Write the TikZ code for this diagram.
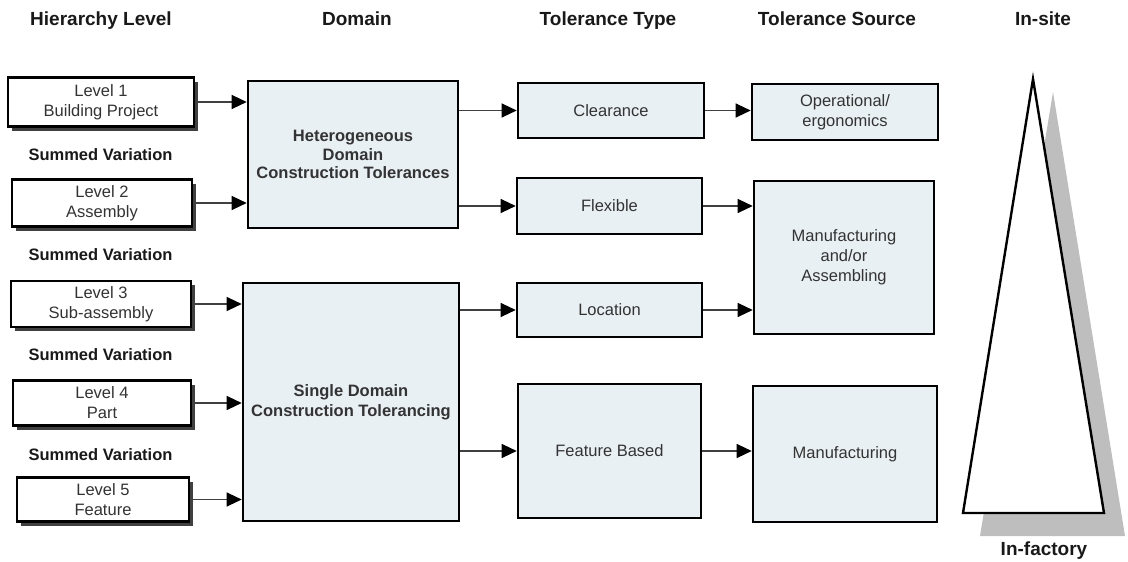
\documentclass[tikz,border=0pt]{standalone}
\usepackage{fontspec}
\setmainfont{Liberation Sans}
\usetikzlibrary{arrows.meta,shadows}
\definecolor{boxfill}{HTML}{E9F0F4}
\definecolor{shadegray}{HTML}{BEBEBE}
\definecolor{inkgray}{HTML}{333333}

\begin{document}
\begin{tikzpicture}[x=1pt,y=-1pt,
	hdr/.style={anchor=base, font=\fontsize{19}{22}\selectfont\bfseries, text=black!90},
	sumlabel/.style={anchor=base, font=\fontsize{16.5}{20}\selectfont\bfseries, text=black!90},
	lvlbox/.style={draw, line width=2.4pt, fill=white, align=center, inner sep=0pt,
		font=\fontsize{16.5}{20}\selectfont, text=inkgray,
		drop shadow={shadow xshift=4pt, shadow yshift=-4pt, fill=black!75, opacity=1}},
	tolbox/.style={draw, line width=2.6pt, fill=boxfill, align=center, inner sep=0pt,
		font=\fontsize{16.5}{20}\selectfont, text=inkgray},
	flow/.style={draw=black!75, line width=1.2pt, -{Triangle[length=15pt,width=14pt,color=black]}}]
\useasboundingbox (0,0) rectangle (1128,562);

% column headings
\node[hdr] (hhier) at (101,25) {Hierarchy Level};
\node[hdr] (hdom) at (357,25) {Domain};
\node[hdr] (htype) at (608,25) {Tolerance Type};
\node[hdr] (hsrc) at (837,25) {Tolerance Source};
\node[hdr] (hsite) at (1043,25) {In-site};
\node[hdr] (hfac) at (1044,555) {In-factory};

% hierarchy levels
\node[lvlbox, minimum width=186pt, minimum height=49pt] (lvl1) at (101,102) {Level 1\\Building Project};
\node[lvlbox, minimum width=180pt, minimum height=47pt] (lvl2) at (102,203) {Level 2\\Assembly};
\node[lvlbox, minimum width=180pt, minimum height=46pt] (lvl3) at (101,304) {Level 3\\Sub-assembly};
\node[lvlbox, minimum width=178pt, minimum height=45pt] (lvl4) at (102,403) {Level 4\\Part};
\node[lvlbox, minimum width=172pt, minimum height=44pt] (lvl5) at (103,499.5) {Level 5\\Feature};

\node[sumlabel] (sum1) at (100.5,160) {Summed Variation};
\node[sumlabel] (sum2) at (100.5,260) {Summed Variation};
\node[sumlabel] (sum3) at (100.5,360) {Summed Variation};
\node[sumlabel] (sum4) at (100.5,460) {Summed Variation};

% domains
\node[tolbox, font=\fontsize{16.5}{18.5}\selectfont\bfseries, minimum width=210pt, minimum height=147pt] (hetero) at (353,154.5)
	{Heterogeneous\\Domain\\Construction Tolerances};
\node[tolbox, font=\fontsize{16.5}{20}\selectfont\bfseries, minimum width=216pt, minimum height=238pt] (single) at (351,402)
	{Single Domain\\Construction Tolerancing};

% tolerance types
\node[tolbox, minimum width=186pt, minimum height=55pt] (clear) at (611,110.5) {Clearance};
\node[tolbox, minimum width=185pt, minimum height=56pt] (flex) at (609.5,206) {Flexible};
\node[tolbox, minimum width=185pt, minimum height=54pt] (loc) at (609.5,310) {Location};
\node[tolbox, minimum width=183pt, minimum height=134pt] (feat) at (609.5,451) {Feature Based};

% tolerance sources
\node[tolbox, minimum width=186pt, minimum height=56pt] (oper) at (845,112) {Operational/\\ergonomics};
\node[tolbox, minimum width=180pt, minimum height=153pt] (manasm) at (844,257.5) {Manufacturing\\and/or\\Assembling};
\node[tolbox, minimum width=184pt, minimum height=136pt] (manuf) at (845,454) {Manufacturing};

% connectors
\draw[flow] (lvl1.east) -- (lvl1.east -| hetero.west);
\draw[flow] (lvl2.east) -- (lvl2.east -| hetero.west);
\draw[flow] (lvl3.east) -- (lvl3.east -| single.west);
\draw[flow] (lvl4.east) -- (lvl4.east -| single.west);
\draw[flow] (lvl5.east) -- (lvl5.east -| single.west);
\draw[flow] (hetero.east |- clear) -- (clear.west);
\draw[flow] (hetero.east |- flex) -- (flex.west);
\draw[flow] (single.east |- loc) -- (loc.west);
\draw[flow] (single.east |- feat) -- (feat.west);
\draw[flow] (clear.east) -- (clear.east -| oper.west);
\draw[flow] (flex.east) -- (flex.east -| manasm.west);
\draw[flow] (loc.east) -- (loc.east -| manasm.west);
\draw[flow] (feat.east) -- (feat.east -| manuf.west);

% in-site / in-factory wedge
\fill[shadegray] (1053,92) -- (980,536) -- (1125,536) -- cycle;
\draw[line width=2.4pt, fill=white] (1033,79) -- (963,513) -- (1104,513) -- cycle;
\end{tikzpicture}
\end{document}
